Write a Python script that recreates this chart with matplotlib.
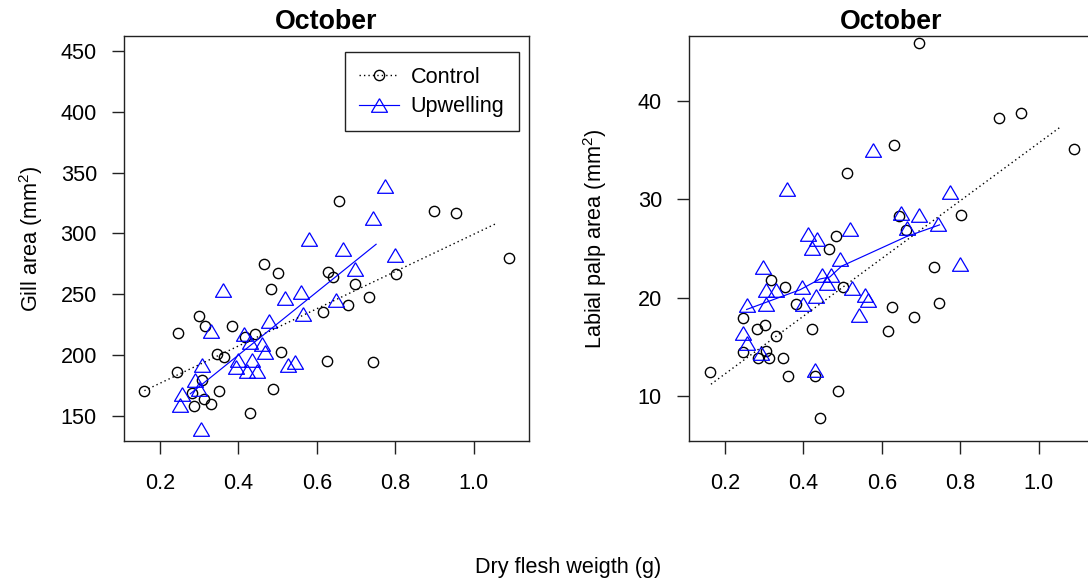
import matplotlib
matplotlib.use("Agg")
import matplotlib.pyplot as plt
from matplotlib.lines import Line2D

plt.rcParams.update({
    "font.family": ["Liberation Sans", "DejaVu Sans"],
    "mathtext.fontset": "custom",
    "mathtext.rm": "Liberation Sans",
    "font.size": 15.6,
})

# ── Gill area (left panel) ──────────────────────────────────────────────────
gill_ctrl_x = [0.159, 0.247, 0.243, 0.299, 0.315, 0.287, 0.313, 0.329, 0.306,
               0.281, 0.350, 0.346, 0.363, 0.383, 0.429, 0.417, 0.441, 0.465,
               0.502, 0.483, 0.509, 0.489, 0.615, 0.627, 0.629, 0.642, 0.657,
               0.680, 0.698, 0.734, 0.744, 0.801, 0.898, 0.956, 1.091]
gill_ctrl_y = [170.6, 217.7, 185.6, 232.0, 223.7, 158.0, 164.0, 160.0, 179.4,
               169.0, 170.6, 200.7, 198.0, 223.7, 152.0, 215.0, 217.0, 274.5,
               267.6, 254.0, 202.6, 171.7, 235.0, 195.0, 268.0, 263.8, 327.0,
               241.0, 258.0, 247.9, 194.0, 266.5, 318.0, 317.0, 280.0]
gill_upw_x = [0.774, 0.742, 0.580, 0.666, 0.800, 0.697, 0.360, 0.559, 0.518,
              0.650, 0.565, 0.478, 0.329, 0.413, 0.430, 0.459, 0.468, 0.434,
              0.400, 0.394, 0.421, 0.447, 0.527, 0.543, 0.306, 0.289, 0.299,
              0.257, 0.251, 0.304]
gill_upw_y = [338.9, 313.0, 295.0, 286.8, 281.9, 271.0, 253.0, 252.0, 246.5,
              245.0, 234.0, 228.0, 220.0, 217.0, 211.0, 209.0, 202.0, 196.0,
              196.0, 190.0, 187.0, 187.0, 191.7, 194.0, 191.7, 179.0, 172.0,
              168.0, 159.0, 138.8]
# fitted curves
gill_ctrl_fit_x = [0.16, 1.057]
gill_ctrl_fit_y = [170.6, 308.0]
gill_upw_fit_x = [0.277, 0.43, 0.751]
gill_upw_fit_y = [168.0, 207.7, 291.0]

# ── Labial palp area (right panel) ──────────────────────────────────────────
palp_ctrl_x = [0.162, 0.245, 0.247, 0.281, 0.302, 0.285, 0.305, 0.313, 0.316,
               0.330, 0.353, 0.348, 0.361, 0.382, 0.421, 0.429, 0.442, 0.465,
               0.484, 0.488, 0.501, 0.510, 0.616, 0.627, 0.631, 0.643, 0.661,
               0.681, 0.694, 0.734, 0.745, 0.802, 0.898, 0.955, 1.091]
palp_ctrl_y = [12.47, 17.9, 14.5, 16.8, 17.2, 13.9, 14.6, 13.9, 21.8,
               16.1, 21.1, 13.9, 12.0, 19.4, 16.8, 12.0, 7.8, 24.9,
               26.3, 10.5, 21.1, 32.7, 16.6, 19.1, 35.5, 28.3, 26.9,
               18.0, 45.9, 23.1, 19.5, 28.4, 38.3, 38.8, 35.1]
palp_upw_x = [0.577, 0.359, 0.774, 0.650, 0.694, 0.665, 0.743, 0.518, 0.412,
              0.435, 0.421, 0.492, 0.296, 0.798, 0.446, 0.469, 0.459, 0.396,
              0.304, 0.330, 0.525, 0.556, 0.565, 0.433, 0.257, 0.304, 0.398,
              0.541, 0.247, 0.255, 0.291, 0.429]
palp_upw_y = [35.0, 31.0, 30.7, 28.6, 28.4, 27.1, 27.5, 27.0, 26.5,
              26.0, 25.0, 23.9, 23.1, 23.4, 22.3, 22.3, 21.5, 21.1,
              20.8, 20.8, 21.0, 20.3, 19.8, 20.2, 19.3, 19.4, 19.4,
              18.2, 16.4, 15.4, 14.4, 12.6]
palp_ctrl_fit_x = [0.164, 1.057]
palp_ctrl_fit_y = [11.2, 37.4]
palp_upw_fit_x = [0.255, 0.391, 0.442, 0.467, 0.497, 0.662, 0.747]
palp_upw_fit_y = [18.8, 20.8, 21.9, 22.1, 23.2, 26.2, 27.4]

x_ticks = [0.2, 0.4, 0.6, 0.8, 1.0]
x_labels = ["0.2", "0.4", "0.6", "0.8", "1.0"]
gill_ticks = [150, 200, 250, 300, 350, 400, 450]
palp_ticks = [10, 20, 30, 40]
groups = ["Control", "Upwelling"]

BLUE = "#0000ff"
TRI = [(0, 0.85), (1, -0.85), (-1, -0.85), (0, 0.85)]
CIRC_KW = dict(marker="o", ms=7.4, mfc="none", mec="black", mew=1.0)
TRI_KW = dict(marker=TRI, ms=11.5, mfc="none", mec=BLUE, mew=0.9)
DOT_KW = dict(color="black", lw=1.0, ls=(0, (1, 2.2)))
LINE_KW = dict(color=BLUE, lw=0.85)


def style_axis(ax, yticks):
    ax.set_xticks(x_ticks)
    ax.set_xticklabels(x_labels)
    ax.set_yticks(yticks)
    ax.tick_params(axis="x", length=9.5, width=1.0, pad=13.5, color="#222222")
    ax.tick_params(axis="y", length=9.0, width=1.0, pad=10.5, color="#222222")
    for sp in ax.spines.values():
        sp.set_linewidth(1.0)
        sp.set_color("#222222")
    ax.text(0.5, 1 + 6.7 / 405, "October", transform=ax.transAxes,
            ha="center", va="baseline", fontsize=19.3, fontweight="bold")


fig = plt.figure(figsize=(10.88, 5.81), dpi=100)
ax1 = fig.add_axes([124 / 1088, 1 - 441 / 581, 405 / 1088, 405 / 581])
ax2 = fig.add_axes([689 / 1088, 1 - 441 / 581, 405 / 1088, 405 / 581])

# left: gill area
ax1.plot(gill_ctrl_x, gill_ctrl_y, ls="none", **CIRC_KW)
ax1.plot(gill_upw_x, gill_upw_y, ls="none", **TRI_KW)
ax1.plot(gill_ctrl_fit_x, gill_ctrl_fit_y, **DOT_KW)
ax1.plot(gill_upw_fit_x, gill_upw_fit_y, **LINE_KW)
ax1.set_xlim(0.108, 1.141)
ax1.set_ylim(129.2, 462.3)
style_axis(ax1, gill_ticks)

handles = [Line2D([], [], **CIRC_KW, **DOT_KW),
           Line2D([], [], **TRI_KW, **LINE_KW)]
leg = ax1.legend(handles, groups, loc="upper right",
                 bbox_to_anchor=(0.975, 0.960), borderaxespad=0,
                 fancybox=False, framealpha=1, edgecolor="#222222",
                 handlelength=1.85, handletextpad=0.55, labelspacing=0.4,
                 borderpad=0.66)
leg.get_frame().set_linewidth(1.0)

# right: labial palp area
ax2.plot(palp_ctrl_x, palp_ctrl_y, ls="none", **CIRC_KW)
ax2.plot(palp_upw_x, palp_upw_y, ls="none", **TRI_KW)
ax2.plot(palp_ctrl_fit_x, palp_ctrl_fit_y, **DOT_KW)
ax2.plot(palp_upw_fit_x, palp_upw_fit_y, **LINE_KW)
ax2.set_xlim(0.108, 1.141)
ax2.set_ylim(5.43, 46.6)
style_axis(ax2, palp_ticks)

# axis labels
fig.text(38 / 1088, 1 - 238.5 / 581, r"Gill area (mm$^{\mathregular{2}}$)",
         rotation=90, rotation_mode="anchor", ha="center", va="baseline")
fig.text(602 / 1088, 1 - 238.5 / 581, r"Labial palp area (mm$^{\mathregular{2}}$)",
         rotation=90, rotation_mode="anchor", ha="center", va="baseline")
fig.text(568 / 1088, 1 - 573 / 581, "Dry flesh weigth (g)",
         ha="center", va="baseline")

fig.savefig("out.png", dpi=100)
